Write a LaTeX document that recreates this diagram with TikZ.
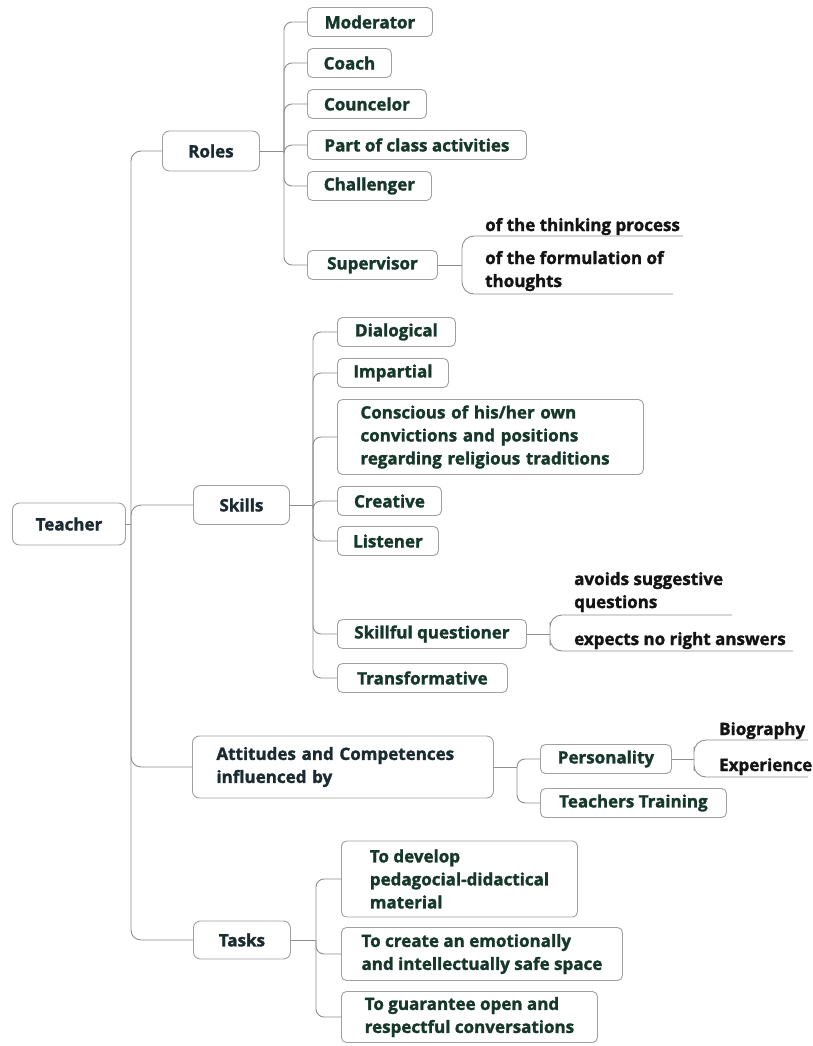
\documentclass[tikz,border=0pt]{standalone}
\usepackage{fontspec}
\setmainfont{Open Sans}[BoldFeatures={FakeBold=1.6}]
\definecolor{leafgreen}{HTML}{16382A}
\definecolor{topicslate}{HTML}{1A2B31}
\definecolor{linegray}{HTML}{8E8E8E}
\definecolor{boxgray}{HTML}{A0A0A0}

\begin{document}
\begin{tikzpicture}[x=1pt,y=-1pt,
    every node/.style={font=\fontsize{17}{23}\selectfont\bfseries, inner sep=0pt},
    topic/.style={draw=boxgray, line width=0.9pt, rounded corners=7pt, anchor=west, align=left, text=topicslate},
    leaf/.style={draw=boxgray, line width=0.9pt, rounded corners=5pt, anchor=west, align=left, text=leafgreen},
    note/.style={anchor=base west, align=left, text=black!92},
    conn/.style={draw=linegray, line width=0.9pt}]

  \useasboundingbox[fill=white] (0,0) rectangle (813,1046);

  \node[topic, minimum width=113pt, minimum height=42pt] (teacher) at (12,524) {Teacher};
  \node[topic, minimum width=97pt, minimum height=40pt] (roles) at (162,151) {Roles};
  \node[topic, minimum width=96pt, minimum height=39pt] (skills) at (193,505) {Skills};
  \node[topic, inner xsep=24pt, text width=253pt, minimum height=62pt] (attitudes) at (192,767) {Attitudes and Competences\\influenced by};
  \node[topic, minimum width=97pt, minimum height=38pt] (tasks) at (193,940) {Tasks};

  \begin{scope}[every node/.append style={leaf, minimum height=29pt}]
    \node[minimum width=125pt] (moderator)  at (307,22)  {Moderator};
    \node[minimum width=84pt]  (coach)      at (307,63)  {Coach};
    \node[minimum width=119pt] (councelor)  at (307,104) {Councelor};
    \node[minimum width=219pt] (classpart)  at (307,145) {Part of class activities};
    \node[minimum width=124pt] (challenger) at (307,186) {Challenger};
    \node[minimum width=130pt] (supervisor) at (307,265) {Supervisor};

    \node[minimum width=118pt] (dialogical)   at (337,332) {Dialogical};
    \node[minimum width=111pt] (impartial)    at (337,373) {Impartial};
    \node[inner xsep=23pt, text width=260pt, minimum height=75pt] (conscious) at (337,437) {Conscious of his/her own\\convictions and positions\\regarding religious traditions};
    \node[minimum width=104pt] (creative)     at (337,501) {Creative};
    \node[minimum width=101pt] (listener)     at (337,541) {Listener};
    \node[minimum width=189pt] (questioner)   at (337,634) {Skillful questioner};
    \node[minimum width=170pt] (transform)    at (337,678) {Transformative};

    \node[minimum width=131pt] (personality)  at (540,759) {Personality};
    \node[minimum width=186pt] (training)     at (540,803) {Teachers Training};

    \node[minimum width=236pt, minimum height=76pt] (develop)   at (341,879)  {To develop\\pedagocial-didactical\\material};
    \node[minimum width=281pt, minimum height=53pt] (safespace) at (341,954)  {To create an emotionally\\and intellectually safe space};
    \node[minimum width=256pt, minimum height=51pt] (guarantee) at (341,1017) {To guarantee open and\\respectful conversations};
  \end{scope}

  \node[note] (thinking)    at (485,231) {of the thinking process};
  \node[note] (formulation) at (485,287) {of the formulation of\\thoughts};
  \node[note] (suggestive)  at (574,608) {avoids suggestive\\questions};
  \node[note] (noright)     at (574,645) {expects no right answers};
  \node[note] (biography)   at (719,735) {Biography};
  \node[note] (experience)  at (719,771) {Experience};

  \coordinate (tj) at (131,524);
  \coordinate (rj) at (284,151);
  \coordinate (sj) at (313,505);
  \coordinate (aj) at (517,767);
  \coordinate (kj) at (316,940);
  \coordinate (supj) at (462,265);
  \coordinate (qj) at (550,634);
  \coordinate (pj) at (694,759);
  \coordinate (thinkend) at (683,236);
  \coordinate (formend) at (673,294);
  \coordinate (suggend) at (732,615);
  \coordinate (norightend) at (793,651);
  \coordinate (bioend) at (808,740);
  \coordinate (expend) at (808,777);

  \draw[conn] (teacher.east) -- (tj);
  \draw[conn, rounded corners=10pt] (tj) |- (roles.west);
  \draw[conn, rounded corners=10pt] (tj) |- (skills.west);
  \draw[conn, rounded corners=10pt] (tj) |- (attitudes.west);
  \draw[conn, rounded corners=10pt] (tj) |- (tasks.west);

  \draw[conn] (roles.east) -- (rj);
  \foreach \kid in {moderator,coach,councelor,classpart,challenger,supervisor}
    \draw[conn, rounded corners=8pt] (rj) |- (\kid.west);

  \draw[conn] (skills.east) -- (sj);
  \foreach \kid in {dialogical,impartial,conscious,creative,listener,questioner,transform}
    \draw[conn, rounded corners=8pt] (sj) |- (\kid.west);

  \draw[conn] (attitudes.east) -- (aj);
  \foreach \kid in {personality,training}
    \draw[conn, rounded corners=8pt] (aj) |- (\kid.west);

  \draw[conn] (tasks.east) -- (kj);
  \foreach \kid in {develop,safespace,guarantee}
    \draw[conn, rounded corners=8pt] (kj) |- (\kid.west);

  \draw[conn] (supervisor.east) -- (supj);
  \draw[conn, rounded corners=12pt] (thinkend) -| (supj) |- (formend);
  \draw[conn] (questioner.east) -- (qj);
  \draw[conn, rounded corners=12pt] (suggend) -| (qj) |- (norightend);
  \draw[conn] (personality.east) -- (pj);
  \draw[conn, rounded corners=12pt] (bioend) -| (pj) |- (expend);
\end{tikzpicture}
\end{document}
